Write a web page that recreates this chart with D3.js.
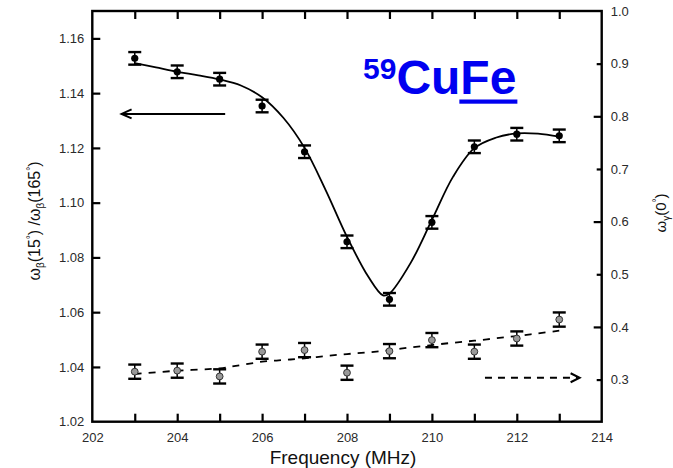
<!DOCTYPE html>
<html>
<head>
<meta charset="utf-8">
<script src="https://cdn.jsdelivr.net/npm/d3@7"></script>
<style>
  html, body { margin: 0; padding: 0; background: #fff; }
  svg { display: block; }
  text { font-family: "Liberation Sans", Arial, sans-serif; }
</style>
</head>
<body>
<svg id="chart" width="673" height="468"></svg>
<script>
// ---- data ----
const freq = [203, 204, 205, 206, 207, 208, 209, 210, 211, 212, 213];
const ratio = [1.1527, 1.1478, 1.1451, 1.1353, 1.1186, 1.0857, 1.0647, 1.0928, 1.1204, 1.1250, 1.1244];
const ratioErr = [0.0023, 0.0023, 0.0023, 0.0023, 0.0023, 0.0023, 0.0023, 0.0023, 0.0023, 0.0023, 0.0023];
const gamma = [0.315, 0.317, 0.306, 0.353, 0.356, 0.313, 0.354, 0.375, 0.353, 0.378, 0.414];
const gammaErr = [0.0135, 0.0135, 0.0135, 0.0135, 0.0135, 0.0135, 0.0135, 0.0135, 0.0135, 0.0135, 0.0135];

const fitFreq = [203, 203.5, 204, 204.5, 205, 205.5, 206, 206.5, 207, 207.5, 208, 208.5, 208.85, 209, 209.5, 210, 210.5, 211, 211.5, 212, 212.5, 213];
const fitRatio = [1.1510, 1.1494, 1.1478, 1.1465, 1.1450, 1.1428, 1.1385, 1.1310, 1.1200, 1.1045, 1.0875, 1.0730, 1.0661, 1.0668, 1.0780, 1.0937, 1.1095, 1.1199, 1.1237, 1.1253, 1.1252, 1.1241];

const gFitFreq = [203, 204, 205, 205.5, 206, 206.5, 207, 207.5, 208, 208.5, 209, 209.5, 210, 210.5, 211, 211.5, 212, 212.5, 213];
const gFitVal = [0.3106, 0.3168, 0.3214, 0.3276, 0.3339, 0.3371, 0.3403, 0.3447, 0.3485, 0.3517, 0.3560, 0.3611, 0.3656, 0.3700, 0.3738, 0.3783, 0.3827, 0.3878, 0.3928];

const xTicks = [202, 203, 204, 205, 206, 207, 208, 209, 210, 211, 212, 213, 214];
const xLabels = [202, 204, 206, 208, 210, 212, 214];
const yLTicks = [1.02, 1.04, 1.06, 1.08, 1.10, 1.12, 1.14, 1.16];
const yRTicks = [0.3, 0.4, 0.5, 0.6, 0.7, 0.8, 0.9, 1.0];
const yRMajor = [0.4, 0.6, 0.8, 1.0];

// annotation arrows (data coords)
const leftArrow = {x1: 205.13, x2: 202.69, y: 1.1324};
const rightArrow = {x1: 211.25, x2: 213.48, y: 0.3035};

// ---- scales ----
const L = 92.3, R = 601.7, T = 11, B = 421.7;
const x = d3.scaleLinear().domain([202, 214]).range([L, R]);
const yL = d3.scaleLinear().domain([1.02, 1.17]).range([B, T]);
const yR = d3.scaleLinear().domain([0.22, 1.0]).range([B, T]);

const svg = d3.select("#chart");
const tickColor = "#2a2a2a";

// bottom axis
const gx = svg.append("g").attr("transform", `translate(0,${B})`)
  .call(d3.axisBottom(x).tickValues(xTicks).tickSizeInner(-8).tickSizeOuter(0).tickPadding(11)
    .tickFormat(d => xLabels.includes(d) ? d3.format("d")(d) : ""));
// top ticks
const gt = svg.append("g").attr("transform", `translate(0,${T})`)
  .call(d3.axisTop(x).tickValues(xTicks.filter(d => d > 202 && d < 214)).tickSizeInner(-8).tickSizeOuter(0).tickFormat(""));
// left axis
const gy = svg.append("g").attr("transform", `translate(${L},0)`)
  .call(d3.axisLeft(yL).tickValues(yLTicks).tickSizeInner(-8).tickSizeOuter(0).tickPadding(8)
    .tickFormat(d3.format(".2f")));
// right axis
const gr = svg.append("g").attr("transform", `translate(${R},0)`)
  .call(d3.axisRight(yR).tickValues(yRTicks).tickSizeInner(-8).tickSizeOuter(0).tickPadding(9)
    .tickFormat(d3.format(".1f")));
gr.selectAll(".tick line").attr("x2", d => yRMajor.some(m => Math.abs(m - d) < 1e-9) ? -8 : -5);

[gx, gt, gy, gr].forEach(g => {
  g.select(".domain").remove();
  g.selectAll(".tick line").attr("stroke", "#000").attr("stroke-width", 2.2);
  g.selectAll(".tick text").attr("fill", tickColor).style("font-size", "13px");
});
gy.selectAll(".tick").filter(d => d === 1.02).select("line").remove();
gx.selectAll(".tick").filter(d => d === 202 || d === 214).select("line").remove();
gr.selectAll(".tick").filter(d => d === 1.0).select("line").remove();

// frame
svg.append("rect").attr("x", L).attr("y", T).attr("width", R - L).attr("height", B - T)
  .attr("fill", "none").attr("stroke", "#000").attr("stroke-width", 2.4);

// fit curve (solid)
svg.append("path")
  .datum(fitFreq.map((f, i) => [f, fitRatio[i]]))
  .attr("fill", "none").attr("stroke", "#000").attr("stroke-width", 1.8)
  .attr("d", d3.line().x(d => x(d[0])).y(d => yL(d[1])).curve(d3.curveCatmullRom));

// dashed fit
svg.append("path")
  .datum(gFitFreq.map((f, i) => [f, gFitVal[i]]))
  .attr("fill", "none").attr("stroke", "#000").attr("stroke-width", 1.8)
  .attr("stroke-dasharray", "7,7")
  .attr("d", d3.line().x(d => x(d[0])).y(d => yR(d[1])).curve(d3.curveCatmullRom));

// error bars helper
function errorBars(vals, errs, yScale, cls) {
  const g = svg.append("g").attr("class", cls);
  const cap = 6.5;
  freq.forEach((f, i) => {
    const cx = x(f), y1 = yScale(vals[i] - errs[i]), y2 = yScale(vals[i] + errs[i]);
    g.append("line").attr("x1", cx).attr("x2", cx).attr("y1", y1).attr("y2", y2)
      .attr("stroke", "#000").attr("stroke-width", 1.5);
    [y1, y2].forEach(yy => g.append("line").attr("x1", cx - cap).attr("x2", cx + cap)
      .attr("y1", yy).attr("y2", yy).attr("stroke", "#000").attr("stroke-width", 2.4));
  });
  return g;
}
errorBars(ratio, ratioErr, yL, "err1");
errorBars(gamma, gammaErr, yR, "err2");

// markers
svg.append("g").selectAll("circle").data(freq).join("circle")
  .attr("cx", d => x(d)).attr("cy", (d, i) => yL(ratio[i])).attr("r", 3.6)
  .attr("fill", "#000");
svg.append("g").selectAll("circle").data(freq).join("circle")
  .attr("cx", d => x(d)).attr("cy", (d, i) => yR(gamma[i])).attr("r", 3.4)
  .attr("fill", "#999").attr("stroke", "#333").attr("stroke-width", 1);

// arrows
const ax1 = x(leftArrow.x1), ax2 = x(leftArrow.x2), ay = yL(leftArrow.y);
svg.append("line").attr("x1", ax1).attr("x2", ax2).attr("y1", ay).attr("y2", ay)
  .attr("stroke", "#000").attr("stroke-width", 2);
svg.append("path").attr("d", `M${ax2 + 10},${ay - 4.5}L${ax2},${ay}L${ax2 + 10},${ay + 4.5}`)
  .attr("fill", "none").attr("stroke", "#000").attr("stroke-width", 2);
const bx1 = x(rightArrow.x1), bx2 = x(rightArrow.x2), by = yR(rightArrow.y);
svg.append("line").attr("x1", bx1).attr("x2", bx2 - 2).attr("y1", by).attr("y2", by)
  .attr("stroke", "#000").attr("stroke-width", 1.8).attr("stroke-dasharray", "7,6");
svg.append("path").attr("d", `M${bx2 - 9},${by - 4.5}L${bx2},${by}L${bx2 - 9},${by + 4.5}`)
  .attr("fill", "none").attr("stroke", "#000").attr("stroke-width", 2);

// title 59CuFe
const title = svg.append("text").attr("x", 363).attr("y", 94)
  .attr("fill", "#0000f0").style("font-weight", "bold");
title.append("tspan").text("59").style("font-size", "30px").attr("dy", -15);
title.append("tspan").text("Cu").style("font-size", "48px").attr("dy", 15);
const fe = title.append("tspan").text("Fe").style("font-size", "48px");
const tnode = title.node();
const feStart = tnode.getStartPositionOfChar(4).x;
const feEnd = tnode.getEndPositionOfChar(5).x;
svg.append("rect").attr("x", feStart - 1).attr("y", 99.5).attr("width", feEnd - feStart + 2).attr("height", 4.2)
  .attr("fill", "#0000f0");

// x label
svg.append("text").attr("x", x(208) - 4).attr("y", 464).attr("text-anchor", "middle")
  .style("font-size", "19px").attr("fill", "#111").text("Frequency (MHz)");

// left y label
const ylab = svg.append("text").attr("transform", "translate(40,221) rotate(-90)")
  .attr("text-anchor", "middle").style("font-size", "16px").attr("fill", "#111");
ylab.append("tspan").text("ω");
ylab.append("tspan").text("β").style("font-size", "10px").attr("dy", 4);
ylab.append("tspan").text("(15").attr("dy", -4);
ylab.append("tspan").text("°").style("font-size", "10px").attr("dy", -6);
ylab.append("tspan").text(") /ω").attr("dy", 6);
ylab.append("tspan").text("β").style("font-size", "10px").attr("dy", 4);
ylab.append("tspan").text("(165").attr("dy", -4);
ylab.append("tspan").text("°").style("font-size", "10px").attr("dy", -6);
ylab.append("tspan").text(")").attr("dy", 6);

// right y label
const yrlab = svg.append("text").attr("transform", "translate(666,213) rotate(-90)")
  .attr("text-anchor", "middle").style("font-size", "15px").attr("fill", "#111");
yrlab.append("tspan").text("ω");
yrlab.append("tspan").text("γ").style("font-size", "10px").attr("dy", 4);
yrlab.append("tspan").text("(0").attr("dy", -4);
yrlab.append("tspan").text("°").style("font-size", "10px").attr("dy", -6);
yrlab.append("tspan").text(")").attr("dy", 6);
</script>
</body>
</html>
